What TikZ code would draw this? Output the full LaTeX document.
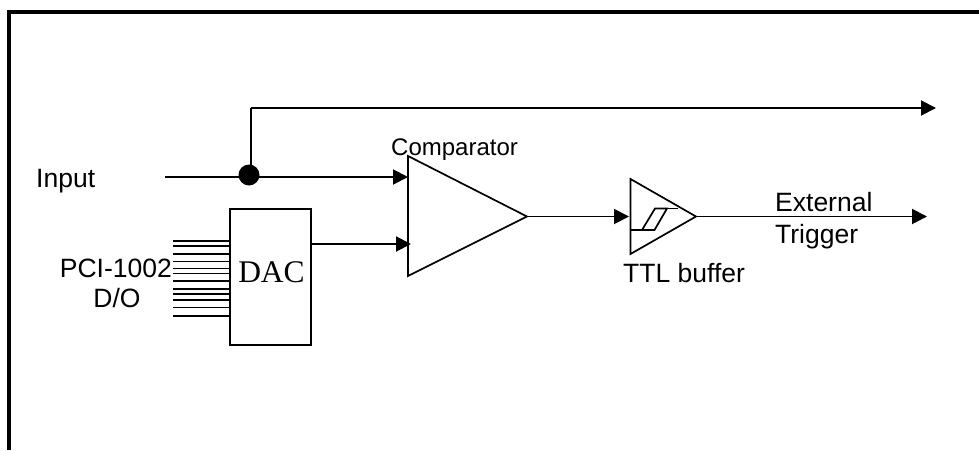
\documentclass[tikz,border=0pt]{standalone}
\usepackage{fontspec}
\setmainfont{Liberation Sans}
\newfontfamily\dacfont{Liberation Serif}
\usetikzlibrary{arrows.meta}
\tikzset{
  wire/.style={line width=1.9pt},
  arrowwire/.style={line width=1.9pt,-{Triangle[length=15pt,width=15pt]}},
  label/.style={anchor=base west,inner sep=0pt,font=\fontsize{26.5}{26.5}\selectfont},
  gate/.style={line width=1.7pt}
}
\begin{document}
\begin{tikzpicture}[x=1pt,y=-1pt]
\useasboundingbox (0,0) rectangle (979,450);
\fill[white] (0,0) rectangle (979,450);
\draw[line width=4pt] (9,450) -- (9,11.5) -- (979,11.5);
% input and branch
\coordinate (inputstart) at (165,177);
\coordinate (branchtop) at (251,108);
\coordinate (topend) at (936,108);
\coordinate (compinA) at (408,177);
\coordinate (compinB) at (411,244);
\node[circle,fill=black,inner sep=0pt,minimum size=21pt] (dot) at (249,175) {};
\draw[wire] (inputstart) -- (compinA -| dot.center);
\draw[arrowwire] (dot.center |- compinA) -- (compinA);
\draw[wire] (branchtop |- dot.center) -- (branchtop);
\draw[arrowwire] (branchtop) -- (topend);
% DAC and its lines
\node[draw,line width=1.7pt,minimum width=81pt,minimum height=136pt,inner sep=0pt] (dac) at (270.5,277) {};
\node[anchor=base,inner sep=0pt,font=\dacfont\fontsize{31.5}{31.5}\selectfont] (dactext) at (271.5,282) {DAC};
\foreach \y [count=\i] in {241,246,254,261.5,268.5,273.5,281,289,294,300,307.5,316}{
  \coordinate (bus\i) at (173,\y);
  \draw[wire] (bus\i) -- (bus\i -| dac.west);
}
\draw[arrowwire] (dac.east |- compinB) -- (compinB);
% comparator
\coordinate (compA) at (408,156);
\coordinate (compB) at (408,276);
\coordinate (compout) at (527,216.5);
\draw[gate] (compA) -- (compout) -- (compB) -- cycle;
% TTL buffer
\coordinate (ttlA) at (630.5,179);
\coordinate (ttlB) at (630.5,254);
\coordinate (ttlout) at (696,216.5);
\coordinate (ttlin) at (629,216.5);
\coordinate (outend) at (927,216.5);
\draw[gate] (ttlA) -- (ttlout) -- (ttlB) -- cycle;
\draw[gate] (630.5,230) -- (654.5,230) -- (667,208.5) -- (655,208.5) -- (642,230);
\draw[gate] (667,208.5) -- (678,208.5);
\draw[arrowwire] (compout) -- (ttlin);
\draw[arrowwire] (ttlout) -- (outend);
% labels
\node[label] (inputlabel) at (36,187) {Input};
\node[label,font=\fontsize{24}{24}\selectfont] (complabel) at (391,155) {Comparator};
\node[label,anchor=base east] (pcilabel) at (172,277) {PCI-1002};
\node[label,anchor=base] (dolabel) at (117,307) {D/O};
\node[label] (extlabel) at (775,211) {External};
\node[label] (triglabel) at (775,243) {Trigger};
\node[label] (ttllabel) at (623,282) {TTL buffer};
\end{tikzpicture}
\end{document}
